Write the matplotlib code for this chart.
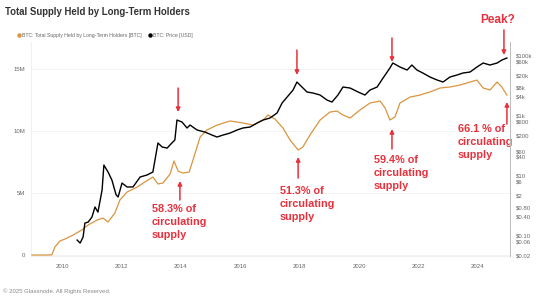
import numpy as np
import matplotlib
matplotlib.use("Agg")
import matplotlib.pyplot as plt
from matplotlib.lines import Line2D

plt.rcParams['font.family'] = ['Liberation Sans', 'DejaVu Sans']

# Long-term holder supply (millions of BTC)
lth_year = [2008.99, 2009.53, 2009.66, 2009.76, 2009.93, 2010.10, 2010.37, 2010.67, 2010.88,
            2011.18, 2011.38, 2011.55, 2011.78, 2011.95, 2012.19, 2012.53, 2012.79, 2013.06,
            2013.23, 2013.40, 2013.64, 2013.77, 2013.91, 2014.07, 2014.28, 2014.41, 2014.65,
            2014.88, 2015.22, 2015.66, 2016.09, 2016.43, 2016.77, 2016.94, 2017.17, 2017.44,
            2017.68, 2017.95, 2018.11, 2018.35, 2018.69, 2019.02, 2019.26, 2019.46, 2019.70,
            2020.03, 2020.37, 2020.71, 2020.88, 2021.04, 2021.21, 2021.38, 2021.72, 2022.05,
            2022.39, 2022.73, 2023.06, 2023.40, 2023.74, 2023.97, 2024.18, 2024.41, 2024.65,
            2024.81, 2024.98]
lth_supply = [0.0, 0.0, 0.02, 0.65, 1.13, 1.29, 1.61, 2.02, 2.42,
              2.82, 2.98, 2.66, 3.39, 4.44, 5.08, 5.48, 5.89, 6.29,
              5.73, 5.81, 6.53, 7.58, 6.77, 6.61, 6.69, 7.66, 9.52,
              10.08, 10.48, 10.81, 10.65, 10.48, 10.89, 11.29, 10.97, 10.24,
              9.27, 8.47, 8.71, 9.68, 10.89, 11.53, 11.61, 11.29, 11.05,
              11.69, 12.26, 12.42, 11.85, 10.89, 11.13, 12.26, 12.74, 12.90,
              13.15, 13.47, 13.55, 13.71, 13.95, 14.11, 13.47, 13.31, 13.95,
              13.55, 12.90]

# BTC price (USD)
price_year = [2010.51, 2010.61, 2010.71, 2010.77, 2010.88, 2011.01, 2011.11, 2011.21, 2011.35,
              2011.41, 2011.55, 2011.68, 2011.82, 2011.89, 2012.02, 2012.19, 2012.39, 2012.63,
              2012.86, 2013.06, 2013.23, 2013.37, 2013.54, 2013.70, 2013.80, 2013.87, 2014.04,
              2014.21, 2014.31, 2014.55, 2014.81, 2015.05, 2015.22, 2015.42, 2015.66, 2015.89,
              2016.09, 2016.33, 2016.57, 2016.77, 2017.00, 2017.24, 2017.41, 2017.58, 2017.78,
              2017.91, 2018.08, 2018.25, 2018.45, 2018.69, 2018.92, 2019.09, 2019.29, 2019.46,
              2019.70, 2019.97, 2020.20, 2020.37, 2020.61, 2020.81, 2021.04, 2021.14, 2021.38,
              2021.62, 2021.78, 2021.95, 2022.15, 2022.39, 2022.63, 2022.83, 2023.06, 2023.30,
              2023.50, 2023.74, 2023.97, 2024.18, 2024.41, 2024.65, 2024.81, 2024.98]
price_usd = [0.068, 0.054, 0.086, 0.25, 0.27, 0.40, 0.86, 0.58, 3.2,
             21.5, 12.6, 6.8, 2.2, 1.85, 5.4, 4.0, 4.0, 8.6,
             10, 12.6, 117, 86, 79, 117, 147, 681, 585,
             369, 464, 316, 271, 215, 185, 215, 251, 316,
             369, 398, 541, 681, 794, 1166, 2512, 3981, 6813,
             12589, 8577, 5848, 5412, 4642, 3162, 2712, 4642, 8577,
             7943, 5848, 4642, 6813, 8577, 17113, 36840, 54117, 39811,
             31623, 46416, 31623, 25119, 18478, 14678, 12589, 18478, 21544,
             25119, 27145, 39811, 54117, 46416, 54117, 68129, 79433]

year_ticks = [2010, 2012, 2014, 2016, 2018, 2020, 2022, 2024]
supply_ticks = [0, 5, 10, 15]
supply_labels = ['0', '5M', '10M', '15M']
price_ticks = [100000, 60000, 20000, 8000, 4000, 1000, 600, 200, 60, 40, 10, 6, 2,
               0.8, 0.4, 0.1, 0.06, 0.02]
price_labels = ['$100k', '$60k', '$20k', '$8k', '$4k', '$1k', '$600', '$200', '$60', '$40',
                '$10', '$6', '$2', '$0.80', '$0.40', '$0.10', '$0.06', '$0.02']

orange = '#d9953f'
red = '#e8313d'
grey = '#666666'

fig = plt.figure(figsize=(5.55, 2.98), dpi=100)
ax = fig.add_axes([31 / 555, 1 - 256 / 298, 479 / 555, 214 / 298])
ax2 = ax.twinx()

ax.plot(lth_year, lth_supply, color=orange, lw=0.9, zorder=3)
ax2.plot(price_year, price_usd, color='black', lw=1.0, zorder=3)

ax.set_xlim(2008.956, 2025.084)
ax.set_ylim(-0.08, 17.18)
ax2.set_yscale('log')
ax2.set_ylim(0.02, 271600)

ax.set_xticks(year_ticks)
ax.set_xticklabels([str(y) for y in year_ticks])
ax.set_yticks(supply_ticks)
ax.set_yticklabels(supply_labels)
ax2.set_yticks(price_ticks)
ax2.set_yticklabels(price_labels)
ax2.minorticks_off()

ax.grid(axis='y', color='#f2f2f2', lw=0.6)
ax.set_axisbelow(True)
for a in (ax, ax2):
    a.tick_params(length=0, labelsize=4.3, labelcolor=grey, pad=4)
    for s in a.spines.values():
        s.set_visible(False)
ax2.spines['right'].set_visible(True)
ax2.spines['right'].set_color('#bbbbbb')
ax2.spines['right'].set_linewidth(0.7)
ax.spines['left'].set_visible(True)
ax.spines['left'].set_color('#f0f0f0')
ax.spines['bottom'].set_visible(True)
ax.spines['bottom'].set_color('#f0f0f0')
ax.tick_params(axis='x', pad=6)

# title, legend, footer
fig.text(5 / 555, 1 - 12 / 298, 'Total Supply Held by Long-Term Holders', fontsize=6.9,
         fontweight='bold', color='#333333', va='center')
handles = [Line2D([], [], ls='none', marker='o', ms=2.2, color=orange),
           Line2D([], [], ls='none', marker='o', ms=2.2, color='black')]
fig.legend(handles, ['BTC: Total Supply Held by Long-Term Holders [BTC]', 'BTC: Price [USD]'],
           loc='center left', bbox_to_anchor=(14 / 555, 1 - 35 / 298), ncol=2, frameon=False,
           fontsize=3.7, labelcolor=grey, handletextpad=0.2, columnspacing=1.3,
           handlelength=0.8, borderpad=0)
fig.text(3 / 555, 1 - 291 / 298, '\u00a9 2025 Glassnode. All Rights Reserved.', fontsize=4.3,
         color='#888888', va='center')

# red annotations
arrow = dict(arrowstyle='-|>', color=red, lw=1.1, mutation_scale=6, shrinkA=0, shrinkB=0)
down_arrows = [(2013.91, 13.47, 11.53), (2017.91, 16.53, 14.52),
               (2021.11, 17.50, 15.57), (2024.88, 18.15, 16.13)]
up_arrows = [(2013.97, 4.44, 5.97), (2017.95, 6.21, 7.90),
             (2021.11, 8.55, 10.16), (2024.98, 10.56, 12.34)]
for x, y0, y1 in down_arrows + up_arrows:
    ax.annotate('', xy=(x, y1), xytext=(x, y0), arrowprops=arrow, annotation_clip=False,
                zorder=5)

notes = [(2013.03, 4.11, '58.3% of\ncirculating\nsupply'),
         (2017.34, 5.56, '51.3% of\ncirculating\nsupply'),
         (2020.50, 8.06, '59.4% of\ncirculating\nsupply'),
         (2023.33, 10.56, '66.1 % of\ncirculating\nsupply')]
for x, y, t in notes:
    ax.text(x, y, t, color=red, fontsize=7.8, fontweight='semibold', va='top', ha='left',
            linespacing=1.35, zorder=5)
ax.text(2024.68, 18.95, 'Peak?', color=red, fontsize=8.5, fontweight='bold',
        ha='center', va='center', clip_on=False)

plt.savefig('out.png', dpi=100)
